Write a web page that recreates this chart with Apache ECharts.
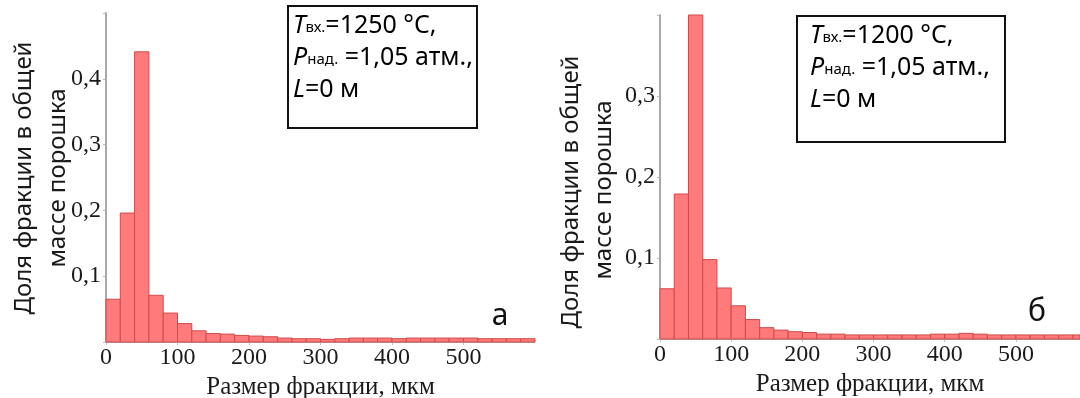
<!DOCTYPE html>
<html>
<head>
<meta charset="utf-8">
<script src="https://cdn.jsdelivr.net/npm/echarts@6/dist/echarts.min.js"></script>
<style>
  html, body { margin: 0; padding: 0; background: #fff; }
  #chart { width: 1080px; height: 398px; }
</style>
</head>
<body>
<div id="chart"></div>
<script>
// нижние границы интервалов размера, мкм (шаг 20)
const binStart = [0, 20, 40, 60, 80, 100, 120, 140, 160, 180, 200, 220, 240, 260, 280,
  300, 320, 340, 360, 380, 400, 420, 440, 460, 480, 500, 520, 540, 560, 580]
const binWidth = 20

// а) T=1250 °C
const shareA = [0.065, 0.196, 0.441, 0.071, 0.044, 0.028, 0.017, 0.013, 0.012, 0.010,
  0.009, 0.008, 0.006, 0.005, 0.005, 0.004, 0.005, 0.006, 0.006, 0.006,
  0.005, 0.006, 0.006, 0.006, 0.006, 0.006, 0.005, 0.005, 0.005, 0.005]
// б) T=1200 °C
const shareB = [0.062, 0.179, 0.400, 0.098, 0.063, 0.041, 0.024, 0.014, 0.011, 0.009,
  0.008, 0.006, 0.006, 0.005, 0.005, 0.005, 0.005, 0.005, 0.005, 0.006,
  0.006, 0.007, 0.006, 0.005, 0.005, 0.005, 0.005, 0.005, 0.005, 0.005]

const xTicks = [0, 100, 200, 300, 400, 500]
const yTicksA = [0.1, 0.2, 0.3, 0.4]
const yTicksB = [0.1, 0.2, 0.3]

const serif = '"Liberation Serif", "Times New Roman", serif'
const sans = '"Noto Sans", "Open Sans", sans-serif'
const barFill = '#ff7a7a'
const barEdge = '#d24a4a'

function histData(vals) {
  return binStart.map((s, i) => [s, s + binWidth, vals[i]])
}

function renderBin(params, api) {
  const p0 = api.coord([api.value(0), api.value(2)])
  const p1 = api.coord([api.value(1), 0])
  const rect = echarts.graphic.clipRectByRect(
    { x: p0[0], y: p0[1], width: p1[0] - p0[0], height: p1[1] - p0[1] },
    { x: params.coordSys.x, y: params.coordSys.y, width: params.coordSys.width, height: params.coordSys.height }
  )
  return rect && {
    type: 'rect',
    shape: rect,
    style: { fill: barFill, stroke: barEdge, lineWidth: 1 }
  }
}

function xAxisOpt(grid, max) {
  return {
    type: 'value', gridIndex: grid, min: 0, max: max, interval: 100,
    name: 'Размер фракции, мкм', nameLocation: 'middle', nameGap: 29,
    nameTextStyle: { fontFamily: serif, fontSize: 25, color: '#1a1a1a' },
    axisLine: { show: true, lineStyle: { color: '#b0b0b0', width: 1 } },
    axisTick: { show: true, length: 3, lineStyle: { color: '#c0c0c0' } },
    axisLabel: {
      fontFamily: serif, fontSize: 24, color: '#1a1a1a', margin: 4,
      showMaxLabel: false,
      formatter: v => xTicks.indexOf(v) >= 0 ? String(v) : ''
    },
    splitLine: { show: false }
  }
}

function yAxisOpt(grid, max, ticks) {
  return {
    type: 'value', gridIndex: grid, min: 0, max: max, interval: 0.1,
    axisLine: { show: true, lineStyle: { color: '#a8a8a8', width: 2 } },
    axisTick: { show: true, length: 3, lineStyle: { color: '#b8b8b8' } },
    axisLabel: {
      fontFamily: serif, fontSize: 24, color: '#1a1a1a', margin: 5,
      formatter: v => {
        const t = ticks.find(k => Math.abs(k - v) < 1e-9)
        return t === undefined ? '' : t.toFixed(1).replace('.', ',')
      }
    },
    splitLine: { show: false }
  }
}

function infoBox(x, y, w, h, tx, ty, temp) {
  const rich = {
    i: { fontFamily: sans, fontSize: 25, fontStyle: 'italic', color: '#111' },
    s: { fontFamily: sans, fontSize: 15, color: '#111', padding: [0, 0, -3, 0] },
    n: { fontFamily: sans, fontSize: 25, color: '#111' }
  }
  return [
    { type: 'rect', shape: { x: x, y: y, width: w, height: h },
      style: { fill: '#fff', stroke: '#111', lineWidth: 2 }, z: 10 },
    { type: 'text', x: tx, y: ty, z: 11,
      style: {
        text: '{i|T}{s|вх.}{n|=' + temp + ' °C,}\n{i|P}{s|над.}{n| =1,05 атм.,}\n{i|L}{n|=0 м}',
        rich: rich, lineHeight: 32
      } }
  ]
}

function yTitle(cx1, cx2, cy1, cy2) {
  const st = { fontFamily: sans, fontSize: 24, fill: '#1a1a1a', align: 'center', verticalAlign: 'middle' }
  return [
    { type: 'text', x: cx1, y: cy1, rotation: Math.PI / 2, style: Object.assign({ text: 'Доля фракции в общей' }, st) },
    { type: 'text', x: cx2, y: cy2, rotation: Math.PI / 2, style: Object.assign({ text: 'массе порошка' }, st) }
  ]
}

const myChart = echarts.init(document.getElementById('chart'), null, { renderer: 'canvas' })

const option = {
  animation: false,
  backgroundColor: '#fff',
  grid: [
    { left: 106, top: 13, width: 429, height: 329, containLabel: false, outerBoundsMode: 'none' },
    { left: 660, top: 15, width: 420, height: 324, containLabel: false, outerBoundsMode: 'none' }
  ],
  xAxis: [xAxisOpt(0, 600), xAxisOpt(1, 590)],
  yAxis: [yAxisOpt(0, 0.5, yTicksA), yAxisOpt(1, 0.4, yTicksB)],
  series: [
    { type: 'custom', xAxisIndex: 0, yAxisIndex: 0, renderItem: renderBin,
      encode: { x: [0, 1], y: 2 }, data: histData(shareA) },
    { type: 'custom', xAxisIndex: 1, yAxisIndex: 1, renderItem: renderBin,
      encode: { x: [0, 1], y: 2 }, data: histData(shareB) }
  ],
  graphic: [
    ...infoBox(288, 6, 189, 122, 293, 10, '1250'),
    ...infoBox(797, 16, 208, 126, 810, 20, '1200'),
    ...yTitle(24, 58, 178, 178),
    ...yTitle(571, 604, 192, 190),
    { type: 'text', x: 500, y: 316, style: { text: 'а', fontFamily: sans, fontSize: 30, fill: '#111', align: 'center', verticalAlign: 'middle' } },
    { type: 'text', x: 1037, y: 312, style: { text: 'б', fontFamily: sans, fontSize: 30, fill: '#111', align: 'center', verticalAlign: 'middle' } }
  ]
}

myChart.setOption(option, true)
window.onresize = () => { myChart.resize() }
</script>
</body>
</html>
